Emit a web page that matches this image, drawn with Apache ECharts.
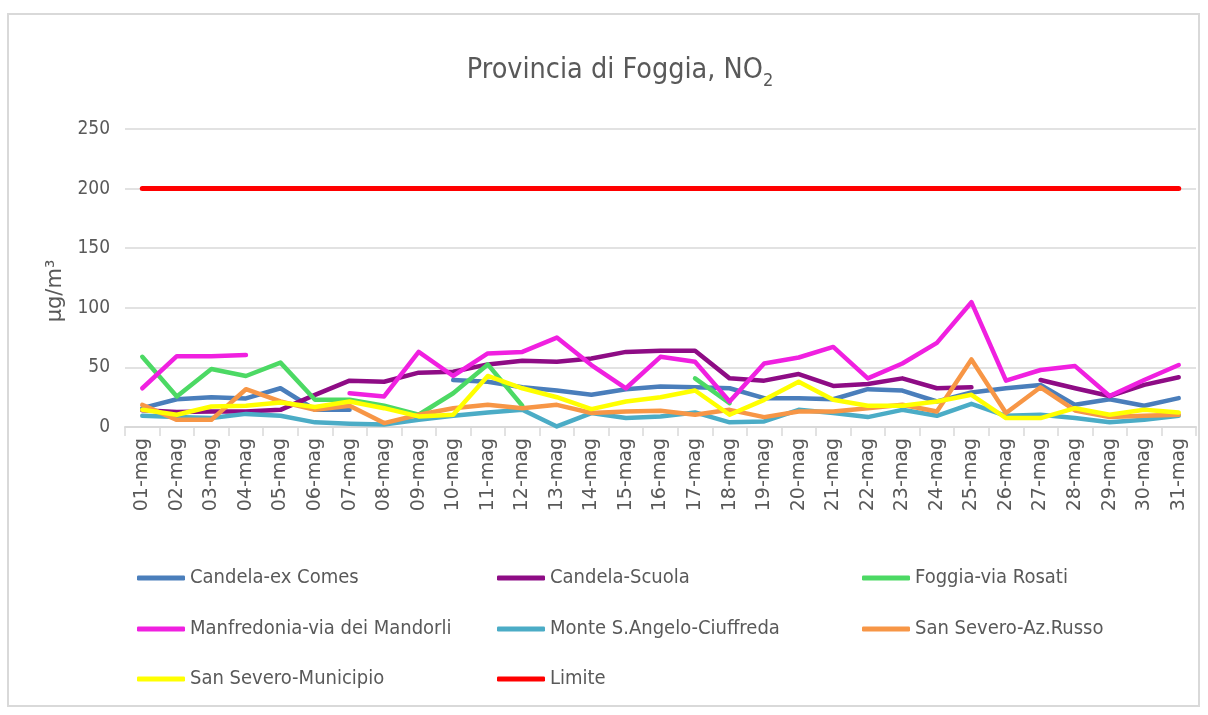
<!DOCTYPE html>
<html>
<head>
<meta charset="utf-8">
<script src="https://cdn.jsdelivr.net/npm/echarts@6/dist/echarts.min.js"></script>
<style>
html,body{margin:0;padding:0;background:#fff;}
#chart{width:1208px;height:715px;}
</style>
</head>
<body>
<div id="chart"></div>
<script>
const days = ['01-mag','02-mag','03-mag','04-mag','05-mag','06-mag','07-mag','08-mag','09-mag','10-mag','11-mag','12-mag','13-mag','14-mag','15-mag','16-mag','17-mag','18-mag','19-mag','20-mag','21-mag','22-mag','23-mag','24-mag','25-mag','26-mag','27-mag','28-mag','29-mag','30-mag','31-mag'];

const candelaExComes = [15.8,23.3,25,24,32.5,14.5,14.5,null,null,39.4,38,33.3,30.6,27,31.7,33.9,33.3,32.5,24.2,24.2,23.3,31.7,30.6,21.4,28.9,32.5,35.3,18.6,23.3,17.8,24.2];
const candelaScuola = [14,12.5,13,13,14.4,27,38.9,38,45.6,46.4,52.5,55.6,54.7,57.5,63,63.9,63.9,40.8,38.9,44.4,34.4,36,40.8,32.5,33.3,null,39.4,32.5,26,35.3,41.7];
const foggiaRosati = [58.9,25.6,48.6,42.8,54,22.8,22.8,17.8,10.3,28.3,52.5,17.8,null,null,null,null,40.8,20,null,null,null,null,null,null,null,null,null,null,null,null,null];
const manfredonia = [32.5,59.4,59.4,60.3,null,null,28.3,25.6,63,42.8,61.7,63,75,52,32.5,58.9,54.7,21.4,53.3,58.3,67.2,40.8,53.3,70.6,104.7,38.9,47.8,51.1,26,39.4,52];
const monteSAngelo = [9.4,8.3,7.5,11,9.4,3.9,2.8,2,6,9.4,12.2,14.4,0.5,11.7,7.5,8.9,12.2,3.9,4.7,14.4,11.7,8.3,14.4,9.4,19.4,9.4,10.3,7.5,3.9,6.1,9.4];
const sanSeveroRusso = [18.6,6,6,31.7,21.4,14.4,17.8,3.3,10.3,15.8,18.6,15.8,18.6,11.7,13,13.6,10.3,14.4,8.3,13,13,15.8,18.6,13,56.7,11.7,33.3,13.9,8.3,9.4,10.3];
const sanSeveroMunicipio = [14.4,10.3,17.2,17.8,20.6,16.7,21.4,15.8,8.9,10.3,42.8,32.5,25,15,21.4,25,30.6,10.3,22.8,38,22.8,17.8,17.8,21.4,27,7.5,7.5,15.8,10.3,14.4,12.2];
const limite = days.map(() => 200);

const seriesNames = ['Candela-ex Comes','Candela-Scuola','Foggia-via Rosati','Manfredonia-via dei Mandorli','Monte S.Angelo-Ciuffreda','San Severo-Az.Russo','San Severo-Municipio','Limite'];
const seriesData = [candelaExComes, candelaScuola, foggiaRosati, manfredonia, monteSAngelo, sanSeveroRusso, sanSeveroMunicipio, limite];
const colors = ['#4A7EBB','#8E0C85','#4CD964','#F020E0','#4BACC6','#F79646','#FFFF00','#FF0000'];

const narrow = "'Liberation Sans Narrow', 'DejaVu Sans Condensed', sans-serif";
const txt = '#595959';

// legend layout: 3 columns x 3 rows
const legendPos = [
  [137,579],[497,579],[862,579],
  [137,630],[497,630],[862,630],
  [137,680],[497,680]
];

const chart = echarts.init(document.getElementById('chart'), null, {renderer:'canvas'});
chart.setOption({
  backgroundColor: '#ffffff',
  animation: false,
  color: colors,
  title: {
    text: '{a|Provincia di Foggia, NO}{b|2}',
    left: 615,
    top: 47,
    textAlign: 'center',
    textStyle: {
      fontWeight: 'normal',
      rich: {
        a: {fontFamily: narrow, fontSize: 28.5, fontWeight: 'normal', color: txt, lineHeight: 38},
        b: {fontFamily: narrow, fontSize: 18, fontWeight: 'normal', color: txt, lineHeight: 38, verticalAlign: 'bottom', padding: [12,0,0,0]}
      }
    }
  },
  graphic: [{
    type: 'rect',
    shape: {x: 8, y: 14, width: 1191, height: 692},
    style: {fill: 'none', stroke: '#d9d9d9', lineWidth: 2},
    silent: true, z: -10
  }],
  legend: seriesNames.map((n, i) => ({
    data: [n],
    left: legendPos[i][0],
    top: legendPos[i][1] - 11,
    padding: 0,
    icon: 'roundRect',
    itemWidth: 48,
    itemHeight: 5,
    textStyle: {fontFamily: narrow, fontSize: 20, color: txt},
    selectedMode: false
  })),
  grid: {left: 125, right: 12, top: 129, bottom: 288, containLabel: false},
  xAxis: {
    type: 'category',
    data: days,
    boundaryGap: true,
    axisLine: {lineStyle: {color: '#d9d9d9', width: 2}},
    axisTick: {show: true, interval: 0, length: 9, lineStyle: {color: '#d9d9d9', width: 1.5}},
    axisLabel: {interval: 0, rotate: 90, fontFamily: 'DejaVu Sans', fontSize: 19, color: txt, margin: 11}
  },
  yAxis: {
    type: 'value',
    min: 0, max: 250, interval: 50,
    name: 'μg/m³',
    nameLocation: 'middle',
    nameRotate: 90,
    nameGap: 58,
    nameTextStyle: {fontFamily: 'DejaVu Sans', fontSize: 21, color: txt, padding: [0,26,0,0]},
    axisLine: {show: false},
    axisTick: {show: false},
    axisLabel: {fontFamily: narrow, fontSize: 19, color: txt, margin: 15},
    splitLine: {lineStyle: {color: '#d9d9d9', width: 1.5}}
  },
  series: seriesNames.map((n, i) => ({
    name: n,
    type: 'line',
    data: seriesData[i],
    showSymbol: false,
    symbol: 'none',
    connectNulls: false,
    lineStyle: {width: i === 7 ? 5 : 4.5, color: colors[i], cap: 'round', join: 'round'},
    itemStyle: {color: colors[i]}
  }))
});
</script>
</body>
</html>
